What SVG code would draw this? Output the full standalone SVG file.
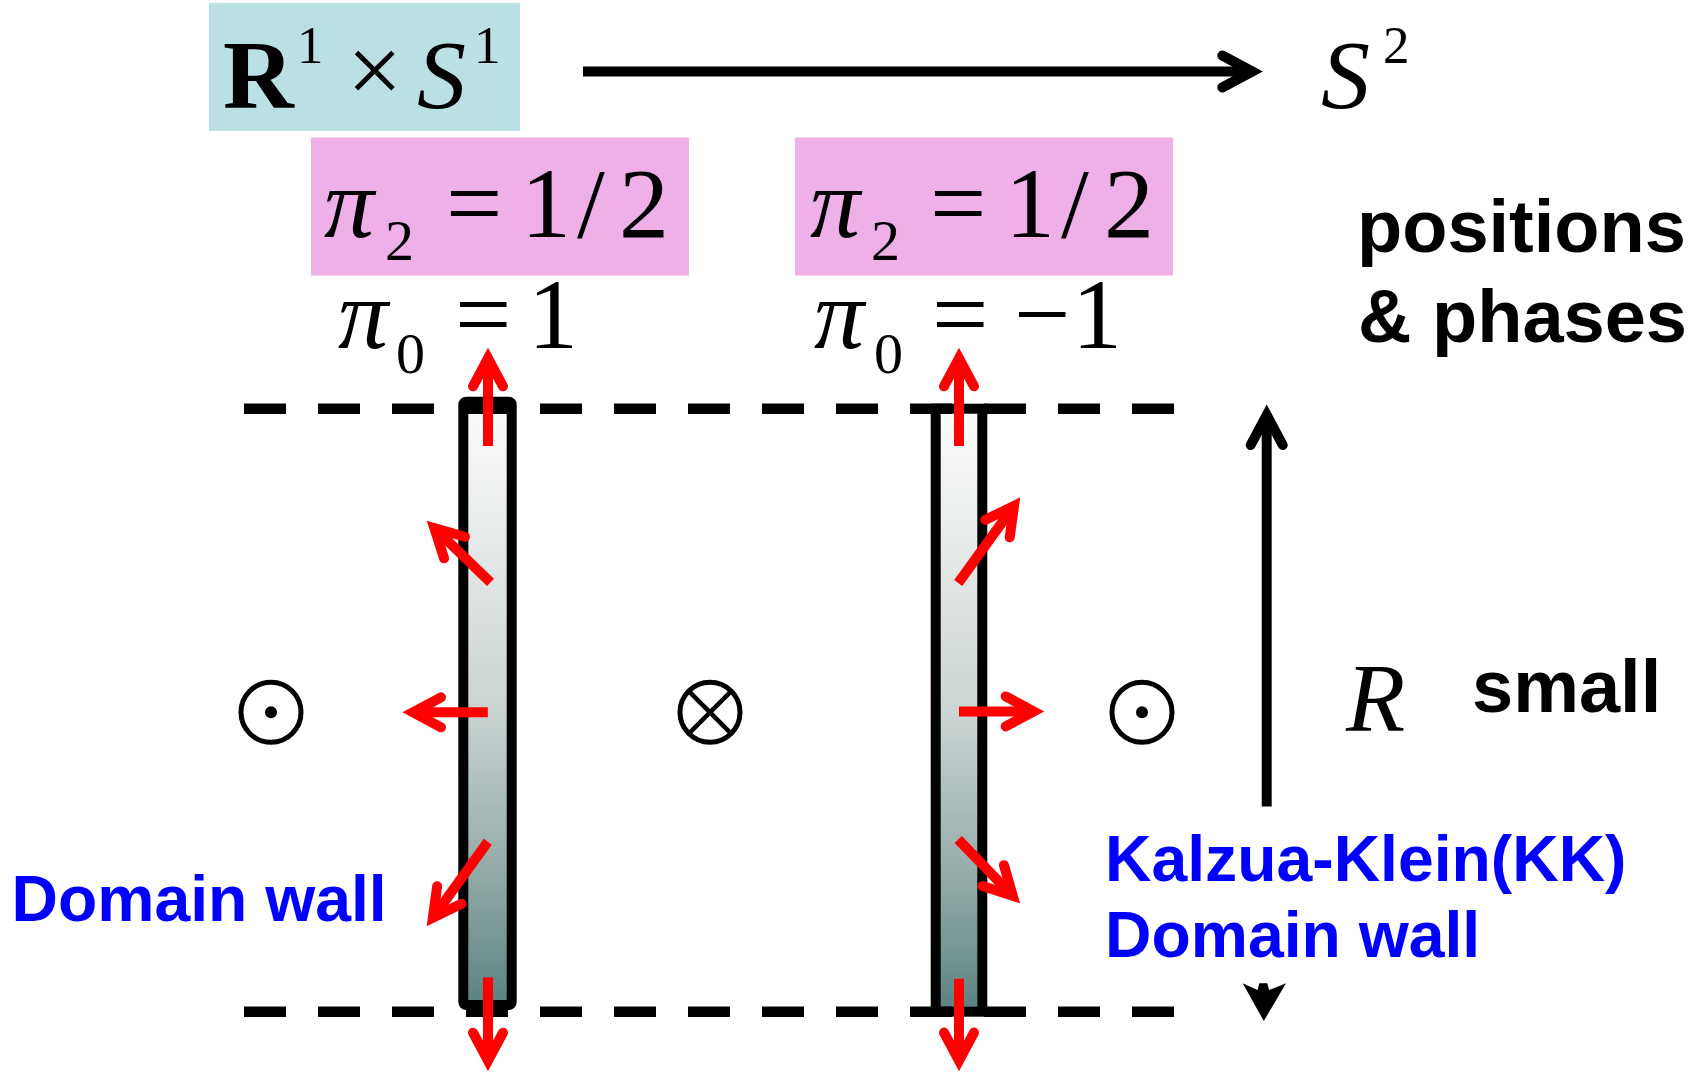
<svg xmlns="http://www.w3.org/2000/svg" width="1698" height="1073" viewBox="0 0 1698 1073">
<style>
.m{font-family:"Liberation Serif","Times New Roman",serif;fill:#000}
.i{font-style:italic}
.b{font-family:"Liberation Sans",Arial,sans-serif;font-weight:bold}
.blue{fill:#0000ff}
.dash{stroke:#000;stroke-width:10.5;stroke-dasharray:42 32;fill:none}
.wall{stroke:#000;stroke-width:10;fill:url(#wg)}
.ra{stroke:#ff0000;stroke-width:10;fill:none;marker-end:url(#rh)}
.ba{stroke:#000;stroke-width:10;fill:none;marker-end:url(#bh)}
.circ{fill:none;stroke:#000;stroke-width:5}
</style>
<defs>
<linearGradient id="wg" x1="0" y1="0" x2="0" y2="1">
<stop offset="0" stop-color="#fcfcfc"/>
<stop offset="0.5" stop-color="#ccd5d4"/>
<stop offset="0.8" stop-color="#8fa7a5"/>
<stop offset="1" stop-color="#5a8280"/>
</linearGradient>
<marker id="rh" markerUnits="userSpaceOnUse" viewBox="-50 -25 60 50" markerWidth="60" markerHeight="50" refX="0" refY="0" orient="auto" overflow="visible">
<path d="M -28 -15 L 0 0 L -28 15" fill="none" stroke="#ff0000" stroke-width="10" stroke-linecap="round" stroke-linejoin="miter"/>
</marker>
<marker id="bh" markerUnits="userSpaceOnUse" viewBox="-50 -25 60 50" markerWidth="60" markerHeight="50" refX="0" refY="0" orient="auto" overflow="visible">
<path d="M -30 -16 L 0 0 L -30 16" fill="none" stroke="#000" stroke-width="10" stroke-linecap="round" stroke-linejoin="miter"/>
</marker>
</defs>
<rect width="1698" height="1073" fill="#fff"/>

<g id="node-r1xs1">
<rect x="209" y="3" width="311" height="128" fill="#bbe0e3"/>
<text class="m" x="223" y="108" font-size="98" font-weight="bold">R</text>
<text class="m" x="297" y="63" font-size="53">1</text>
<text class="m" x="347" y="103" font-size="98">×</text>
<text class="m i" x="417" y="108" font-size="98">S</text>
<text class="m" x="474" y="63" font-size="53">1</text>
</g>

<g id="node-s2">
<text class="m i" x="1321" y="108" font-size="98">S</text>
<text class="m" x="1383" y="63" font-size="53">2</text>
</g>

<g id="node-pi2-left">
<rect x="311" y="137.5" width="378" height="138" fill="#eeb0e7"/>
<text class="m i" x="324" y="237" font-size="100">π</text>
<text class="m" x="385" y="260" font-size="58">2</text>
<text class="m" x="446" y="237" font-size="100">=</text>
<text class="m" x="521" y="237" font-size="100">1</text>
<text class="m" x="577" y="237" font-size="100">/</text>
<text class="m" x="619" y="237" font-size="100">2</text>
</g>

<g id="node-pi2-right">
<rect x="795" y="137.5" width="378" height="138" fill="#eeb0e7"/>
<text class="m i" x="810" y="237" font-size="100">π</text>
<text class="m" x="871" y="260" font-size="58">2</text>
<text class="m" x="930" y="237" font-size="100">=</text>
<text class="m" x="1005" y="237" font-size="100">1</text>
<text class="m" x="1061" y="237" font-size="100">/</text>
<text class="m" x="1104" y="237" font-size="100">2</text>
</g>

<g id="node-pi0-left">
<text class="m i" x="338" y="348" font-size="100">π</text>
<text class="m" x="396" y="373" font-size="58">0</text>
<text class="m" x="455" y="348" font-size="100">=</text>
<text class="m" x="528" y="348" font-size="100">1</text>
</g>

<g id="node-pi0-right">
<text class="m i" x="814" y="348" font-size="100">π</text>
<text class="m" x="874" y="373" font-size="58">0</text>
<text class="m" x="932" y="348" font-size="100">=</text>
<text class="m" x="1014" y="348" font-size="100">−</text>
<text class="m" x="1072" y="348" font-size="100">1</text>
</g>

<g id="node-positions">
<text class="b" x="1357" y="252" font-size="74">positions</text>
<text class="b" x="1358" y="342" font-size="74">&amp; phases</text>
</g>

<g id="node-wall-left">
<rect class="wall" x="463.3" y="401.7" width="48.4" height="603.3" rx="3"/>
</g>
<g id="node-wall-right">
<rect class="wall" x="935.7" y="408.7" width="46.6" height="603"/>
</g>

<g id="node-boundaries">
<line class="dash" x1="244" y1="408.7" x2="1174" y2="408.7"/>
<line class="dash" x1="244" y1="1011.7" x2="1174" y2="1011.7"/>
</g>

<g id="node-dot-left">
<circle class="circ" cx="271" cy="712.3" r="30"/>
<circle cx="271" cy="712.3" r="6" fill="#000"/>
</g>
<g id="node-cross">
<circle class="circ" cx="710" cy="712.3" r="30"/>
<path d="M 689 691.3 L 731 733.3 M 731 691.3 L 689 733.3" stroke="#000" stroke-width="4.5" fill="none"/>
</g>
<g id="node-dot-right">
<circle class="circ" cx="1142" cy="712.3" r="30"/>
<circle cx="1142" cy="712.3" r="6" fill="#000"/>
</g>

<g id="node-r-small">
<text class="m i" x="1346" y="731" font-size="97">R</text>
<text class="b" x="1472" y="712" font-size="74">small</text>
</g>

<g id="node-label-dw">
<text class="b blue" x="11.5" y="921" font-size="64.3">Domain wall</text>
</g>
<g id="node-label-kk">
<text class="b blue" x="1105" y="881" font-size="64.3">Kalzua-Klein(KK)</text>
<text class="b blue" x="1105" y="957" font-size="64.3">Domain wall</text>
</g>

<g id="connectors">
<line class="ba" x1="583" y1="71.5" x2="1252.3" y2="71.5"/>
<line class="ba" x1="1266.7" y1="806.4" x2="1266.7" y2="415"/>
<polygon points="1242.7,983.3 1257.5,990 1259.3,983.3 1267.3,983.3 1269.1,990 1286,983.3 1263.8,1021" fill="#000"/>
<line class="ra" x1="488" y1="446" x2="488" y2="358.3"/>
<line class="ra" x1="490.5" y1="582.4" x2="434.4" y2="528.1"/>
<line class="ra" x1="487.8" y1="712.3" x2="413" y2="712.3"/>
<line class="ra" x1="487.8" y1="841.8" x2="432.9" y2="917.7"/>
<line class="ra" x1="488" y1="977.3" x2="488" y2="1060.7"/>
<line class="ra" x1="959" y1="446" x2="959" y2="358.3"/>
<line class="ra" x1="958.2" y1="583" x2="1014" y2="505.9"/>
<line class="ra" x1="959" y1="711.4" x2="1033.7" y2="711.4"/>
<line class="ra" x1="958.2" y1="839.6" x2="1012.7" y2="895.7"/>
<line class="ra" x1="959" y1="978.8" x2="959" y2="1060.6"/>
</g>
</svg>
